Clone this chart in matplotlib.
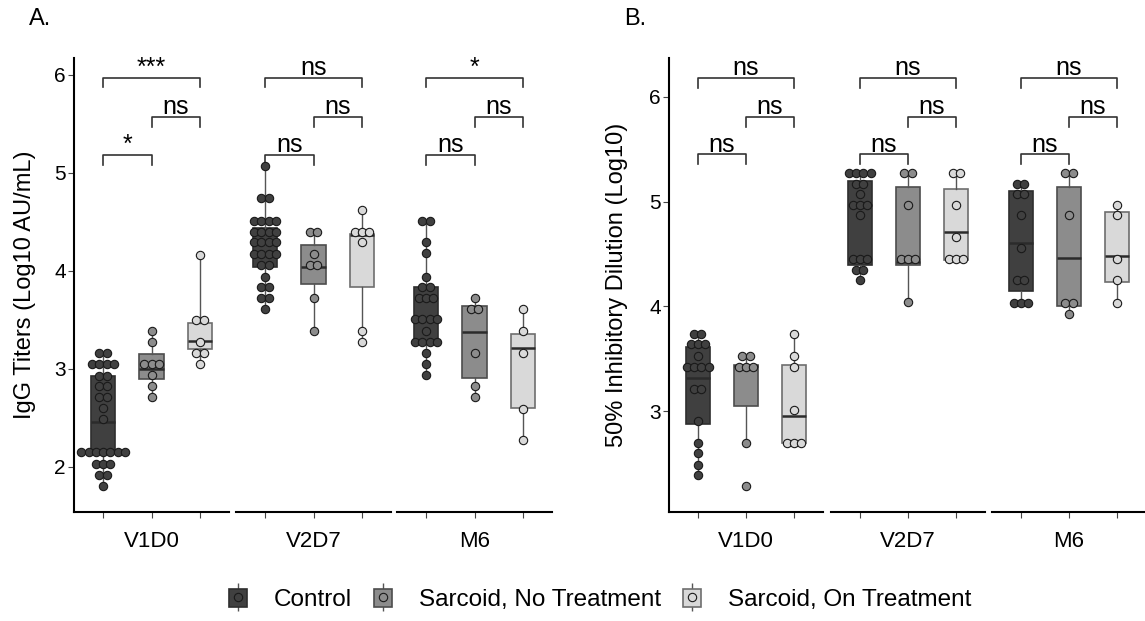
import numpy as np
import matplotlib.pyplot as plt
from matplotlib.patches import Patch
from matplotlib.lines import Line2D
from matplotlib.legend_handler import HandlerTuple

plt.rcParams['font.family'] = ['Liberation Sans', 'DejaVu Sans']

timepoints = ["V1D0", "V2D7", "M6"]
group_names = ["Control", "Sarcoid, No Treatment", "Sarcoid, On Treatment"]

# IgG titers (log10 AU/mL), one list per timepoint
igg_control = [
    [3.16, 3.16, 3.05, 3.05, 3.05, 3.05, 2.93, 2.93, 2.82, 2.82, 2.71, 2.71, 2.60, 2.49,
     2.15, 2.15, 2.15, 2.15, 2.15, 2.15, 2.15, 2.03, 2.03, 2.03, 1.92, 1.92, 1.81],
    [5.07, 4.74, 4.74, 4.51, 4.51, 4.51, 4.51, 4.40, 4.40, 4.40, 4.40, 4.29, 4.29, 4.29, 4.29,
     4.17, 4.17, 4.17, 4.17, 4.06, 4.06, 3.94, 3.83, 3.83, 3.72, 3.72, 3.61],
    [4.51, 4.51, 4.29, 4.18, 3.94, 3.83, 3.83, 3.72, 3.72, 3.72, 3.51, 3.51, 3.51, 3.51,
     3.39, 3.27, 3.27, 3.27, 3.27, 3.16, 3.05, 2.94],
]
igg_sarc_no = [
    [3.39, 3.27, 3.05, 3.05, 3.05, 2.94, 2.83, 2.71],
    [4.40, 4.40, 4.17, 4.06, 4.06, 3.72, 3.39],
    [3.72, 3.61, 3.61, 3.16, 2.83, 2.71],
]
igg_sarc_on = [
    [4.16, 3.50, 3.50, 3.27, 3.16, 3.16, 3.05],
    [4.62, 4.40, 4.40, 4.40, 4.29, 3.39, 3.27],
    [3.61, 3.39, 3.16, 2.59, 2.27],
]
# box stats: (whisker low, q1, median, q3, whisker high)
igg_control_box = [(1.81, 2.15, 2.46, 2.93, 3.16), (3.61, 4.04, 4.29, 4.44, 5.07),
                   (2.94, 3.28, 3.51, 3.83, 4.51)]
igg_sarc_no_box = [(2.71, 2.90, 3.00, 3.15, 3.39), (3.39, 3.87, 4.04, 4.26, 4.40),
                   (2.71, 2.91, 3.38, 3.64, 3.72)]
igg_sarc_on_box = [(3.05, 3.20, 3.28, 3.47, 4.18), (3.27, 3.83, 4.36, 4.38, 4.62),
                   (2.27, 2.60, 3.21, 3.36, 3.61)]

# 50% inhibitory dilution (log10)
neut_control = [
    [3.74, 3.74, 3.64, 3.64, 3.64, 3.53, 3.42, 3.42, 3.42, 3.42, 3.21, 3.21,
     2.91, 2.70, 2.60, 2.49, 2.39],
    [5.27, 5.27, 5.27, 5.27, 5.17, 5.17, 5.07, 4.97, 4.97, 4.97, 4.87,
     4.45, 4.45, 4.45, 4.35, 4.35, 4.25],
    [5.17, 5.17, 5.07, 5.07, 4.87, 4.56, 4.25, 4.25, 4.03, 4.03, 4.03],
]
neut_sarc_no = [
    [3.53, 3.53, 3.42, 3.42, 3.42, 2.70, 2.29],
    [5.27, 5.27, 4.97, 4.45, 4.45, 4.45, 4.04],
    [5.27, 5.27, 4.87, 4.03, 4.03, 3.93],
]
neut_sarc_on = [
    [3.74, 3.53, 3.42, 3.01, 2.70, 2.70, 2.70],
    [5.27, 5.27, 4.97, 4.66, 4.45, 4.45, 4.45],
    [4.97, 4.87, 4.45, 4.25, 4.03],
]
neut_control_box = [(2.39, 2.88, 3.32, 3.61, 3.74), (4.25, 4.40, 4.97, 5.20, 5.27),
                    (4.03, 4.15, 4.61, 5.10, 5.17)]
neut_sarc_no_box = [(2.70, 3.05, 3.43, 3.44, 3.53), (4.04, 4.40, 4.42, 5.14, 5.27),
                    (3.93, 4.00, 4.46, 5.14, 5.27)]
neut_sarc_on_box = [(2.70, 2.70, 2.96, 3.44, 3.74), (4.44, 4.44, 4.71, 5.12, 5.27),
                    (4.03, 4.23, 4.48, 4.90, 4.97)]

# significance brackets: pairs, heights and labels per timepoint
bracket_pairs = [(1, 3), (2, 3), (1, 2)]
igg_bracket_y = [5.97, 5.57, 5.18]
neut_bracket_y = [6.18, 5.81, 5.45]
igg_sig = [["***", "ns", "*"], ["ns", "ns", "ns"], ["*", "ns", "ns"]]
neut_sig = [["ns", "ns", "ns"], ["ns", "ns", "ns"], ["ns", "ns", "ns"]]

fills = ["#404040", "#8c8c8c", "#d9d9d9"]
box_edges = ["#2e2e2e", "#4d4d4d", "#6e6e6e"]

W, H = 1145, 621
fig = plt.figure(figsize=(W / 100, H / 100), dpi=100)


def stacked(vals, center, step):
    # centre-stacked dot positions for repeated values
    vals = np.asarray(vals)
    xs, ys = [], []
    for u in np.unique(vals):
        n = int(np.sum(vals == u))
        for i in range(n):
            xs.append(center + (i - (n - 1) / 2) * step)
            ys.append(u)
    return np.array(xs), np.array(ys)


def draw_panel(lefts, width, ylim, yticks, series, boxes, bracket_y, sig, tick_drop):
    bottom = 1 - 512 / H
    height = (512 - 58) / H
    axes = []
    for k, left in enumerate(lefts):
        ax = fig.add_axes([left / W, bottom, width / W, height])
        for g in range(3):
            lo, q1, med, q3, hi = boxes[g][k]
            st = dict(whislo=lo, q1=q1, med=med, q3=q3, whishi=hi, fliers=[])
            ax.bxp([st], positions=[g + 1], widths=0.5, patch_artist=True,
                   showcaps=False, showfliers=False,
                   boxprops=dict(facecolor=fills[g], edgecolor=box_edges[g], lw=1.2),
                   whiskerprops=dict(color="#555555", lw=1.0),
                   medianprops=dict(color="#2b2b2b", lw=1.8))
            xs, ys = stacked(series[g][k], g + 1, 0.15)
            ax.scatter(xs, ys, s=36, c=fills[g], edgecolors="#1a1a1a",
                       linewidths=0.8, zorder=5)
        for (a, b), yb, lab in zip(bracket_pairs, bracket_y, sig[k]):
            ax.plot([a, a, b, b], [yb - tick_drop, yb, yb, yb - tick_drop],
                    color="#333333", lw=1.2, clip_on=False)
            ax.annotate(lab, xy=((a + b) / 2, yb), xytext=(0, 2),
                        textcoords="offset points", ha="center", va="baseline",
                        fontsize=18, annotation_clip=False)
        ax.set_xlim(0.4, 3.6)
        ax.set_ylim(*ylim)
        ax.set_xticks([1, 2, 3])
        ax.set_xticklabels(["", timepoints[k], ""], fontsize=16)
        ax.tick_params(axis="x", length=4, width=0.8, color="#444444", pad=10)
        for s in ["top", "right"]:
            ax.spines[s].set_visible(False)
        ax.spines["bottom"].set_linewidth(1.5)
        if k == 0:
            ax.spines["left"].set_linewidth(1.5)
            ax.set_yticks(yticks)
            ax.set_yticklabels([str(t) for t in yticks], fontsize=15)
            ax.tick_params(axis="y", length=4, width=0.8, color="#444444", pad=2)
        else:
            ax.spines["left"].set_visible(False)
            ax.set_yticks([])
        ax.patch.set_alpha(0)
        axes.append(ax)
    return axes


igg_series = [igg_control, igg_sarc_no, igg_sarc_on]
igg_boxes = [igg_control_box, igg_sarc_no_box, igg_sarc_on_box]
neut_series = [neut_control, neut_sarc_no, neut_sarc_on]
neut_boxes = [neut_control_box, neut_sarc_no_box, neut_sarc_on_box]

draw_panel([74, 236, 397], 155, (1.54, 6.17), [2, 3, 4, 5, 6],
           igg_series, igg_boxes, igg_bracket_y, igg_sig, 0.10)
draw_panel([669, 831, 992], 154, (2.04, 6.37), [3, 4, 5, 6],
           neut_series, neut_boxes, neut_bracket_y, neut_sig, 0.095)

fig.text(25 / W, 1 - 285 / H, "IgG Titers (Log10 AU/mL)", rotation=90,
         ha="center", va="center", fontsize=17)
fig.text(617 / W, 1 - 285 / H, "50% Inhibitory Dilution (Log10)", rotation=90,
         ha="center", va="center", fontsize=17)
fig.text(29 / W, 1 - 8 / H, "A.", ha="left", va="top", fontsize=17)
fig.text(624 / W, 1 - 8 / H, "B.", ha="left", va="top", fontsize=17)

handles = []
for g in range(3):
    whisk = Line2D([], [], marker="|", markersize=20, markeredgewidth=1.0,
                   color="#555555", linestyle="None")
    box = Patch(facecolor=fills[g], edgecolor=box_edges[g], lw=1.2)
    dot = Line2D([], [], marker="o", markersize=6, markerfacecolor=fills[g],
                 markeredgecolor="#1a1a1a", markeredgewidth=0.8, linestyle="None")
    handles.append((whisk, box, dot))

fig.legend(handles, group_names, loc="center", bbox_to_anchor=(600 / W, 1 - 600 / H),
           ncol=3, frameon=False, fontsize=17.5, handlelength=0.75, handleheight=0.8,
           handletextpad=1.1, columnspacing=0.9,
           handler_map={tuple: HandlerTuple(ndivide=1, pad=0)})

fig.savefig("out.png", dpi=100)
